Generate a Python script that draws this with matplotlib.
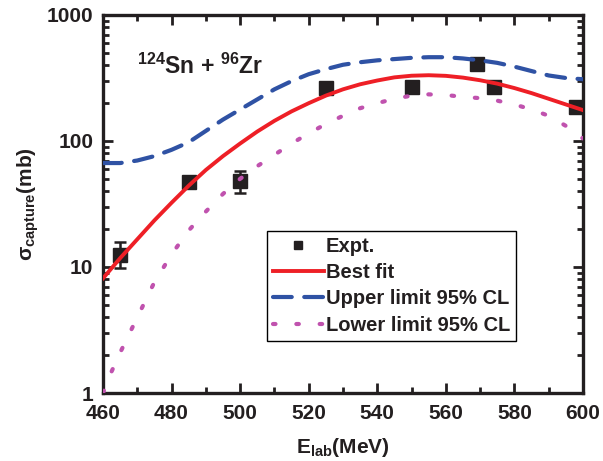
import matplotlib
matplotlib.use("Agg")
import matplotlib.pyplot as plt
from matplotlib.lines import Line2D
from matplotlib.ticker import MultipleLocator, LogLocator, NullFormatter, FixedLocator

plt.rcParams["font.family"] = ["Liberation Sans", "DejaVu Sans"]
plt.rcParams["font.weight"] = "bold"
plt.rcParams["mathtext.fontset"] = "custom"
plt.rcParams["mathtext.rm"] = "Liberation Sans:bold"
plt.rcParams["mathtext.bf"] = "Liberation Sans:bold"
plt.rcParams["mathtext.it"] = "Liberation Sans:bold"

# experimental capture cross sections (mb)
e_exp = [465, 485, 500, 525, 550, 569, 574, 598]
s_exp = [12.5, 47, 48, 263, 270, 405, 270, 186]
err_lo = [2.7, 4, 9, 15, 15, 25, 15, 12]
err_hi = [3.3, 4, 10, 15, 15, 25, 15, 12]

# curves, values of log10(sigma)
e_curve = [460, 462.5, 465, 470, 475, 480, 485, 490, 495, 500, 505, 510, 515,
           520, 525, 530, 535, 540, 545, 550, 555, 560, 565, 570, 575, 580,
           585, 590, 595, 600]
best_log = [0.91, 0.99, 1.07, 1.22, 1.37, 1.51, 1.645, 1.77, 1.88, 1.98, 2.075,
            2.16, 2.235, 2.30, 2.36, 2.41, 2.45, 2.48, 2.505, 2.518, 2.522,
            2.517, 2.503, 2.482, 2.455, 2.42, 2.38, 2.335, 2.29, 2.245]
upper_log = [1.825, 1.825, 1.825, 1.845, 1.88, 1.93, 1.99, 2.08, 2.17, 2.25,
             2.33, 2.41, 2.475, 2.53, 2.57, 2.605, 2.625, 2.64, 2.65, 2.66,
             2.665, 2.665, 2.655, 2.64, 2.62, 2.59, 2.555, 2.52, 2.50, 2.49]
lower_log = [0.0, 0.17, 0.32, 0.60, 0.88, 1.10, 1.29, 1.44, 1.58, 1.70, 1.80,
             1.89, 1.98, 2.06, 2.135, 2.20, 2.26, 2.30, 2.335, 2.36, 2.37,
             2.365, 2.35, 2.34, 2.32, 2.29, 2.25, 2.20, 2.12, 2.02]

best = [10 ** v for v in best_log]
upper = [10 ** v for v in upper_log]
lower = [10 ** v for v in lower_log]

ink = "#231f20"
fig = plt.figure(figsize=(6.03, 4.61), dpi=100)
ax = fig.add_axes([0.1708, 0.1475, 0.796, 0.82])

ax.errorbar(e_exp, s_exp, yerr=[err_lo, err_hi], fmt="s", color=ink, ms=10,
            capsize=4, elinewidth=1.8, capthick=1.8, zorder=2, clip_on=False)
l_best, = ax.plot(e_curve, best, color="#ee1f26", lw=2.8, zorder=3)
l_up, = ax.plot(e_curve, upper, color="#2f52a4", lw=3.0, linestyle=(0, (4.5, 3)),
                dash_capstyle="round", zorder=3)
l_lo, = ax.plot(e_curve, lower, color="#c052ae", lw=3.0,
                linestyle=(0, (0.6, 5.0)), dash_capstyle="round", zorder=3)

ax.set_yscale("log")
ax.set_xlim(460, 600)
ax.set_ylim(1, 1000)
ax.xaxis.set_major_locator(MultipleLocator(20))
ax.xaxis.set_minor_locator(MultipleLocator(10))
ax.yaxis.set_major_locator(FixedLocator([1, 10, 100, 1000]))
ax.yaxis.set_major_formatter(plt.FuncFormatter(lambda v, p: "%d" % v))
ax.yaxis.set_minor_locator(LogLocator(base=10, subs=range(2, 10)))
ax.yaxis.set_minor_formatter(NullFormatter())

ax.tick_params(which="both", direction="in", top=True, right=True, width=2,
               colors=ink, labelsize=15)
ax.tick_params(axis="x", pad=8)
ax.tick_params(axis="y", pad=7)
ax.tick_params(which="major", length=7)
ax.tick_params(which="minor", length=4)
for lab in ax.get_xticklabels() + ax.get_yticklabels():
    lab.set_fontweight("bold")
for sp in ax.spines.values():
    sp.set_linewidth(2.4)
    sp.set_color(ink)

ax.set_xlabel(r"E$_{\mathrm{lab}}$(MeV)", fontsize=15, fontweight="bold",
              color=ink, labelpad=9)
ax.set_ylabel(r"$\sigma_{\mathrm{capture}}$(mb)", fontsize=15,
              fontweight="bold", color=ink, labelpad=4)

ax.text(0.07, 0.845, r"$^{124}$Sn + $^{96}$Zr", transform=ax.transAxes,
        fontsize=16.5, fontweight="bold", color=ink)

h_exp = Line2D([], [], marker="s", ms=6, color=ink, linestyle="none")
leg = ax.legend([h_exp, l_best, l_up, l_lo],
                ["Expt.", "Best fit", "Upper limit 95% CL", "Lower limit 95% CL"],
                loc="upper left", bbox_to_anchor=(0.342, 0.429), fontsize=14.5,
                frameon=True, fancybox=False, edgecolor="black", framealpha=1,
                handlelength=2.5, handletextpad=0.1, labelspacing=0.36,
                borderpad=0.3, borderaxespad=0)
leg.get_frame().set_linewidth(1.0)
for t in leg.get_texts():
    t.set_fontweight("bold")
    t.set_color(ink)

fig.savefig("out.png", dpi=100)
